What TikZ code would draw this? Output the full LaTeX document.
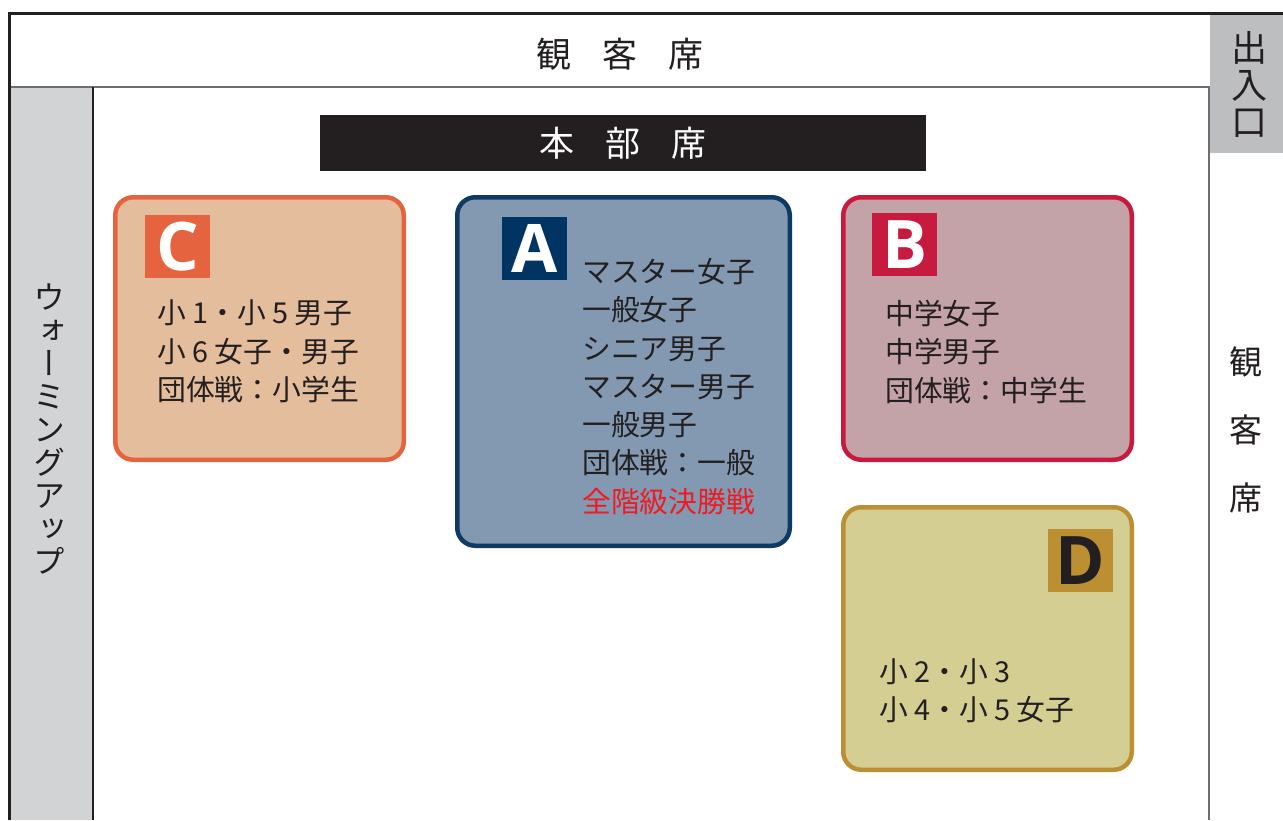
\documentclass[tikz,border=0pt]{standalone}
\usepackage{fontspec}
\setmainfont{Noto Sans CJK JP}
\newfontfamily\vjp[RawFeature=+vert]{Noto Sans CJK JP}
\newfontfamily\latin{Open Sans}
\definecolor{ink}{HTML}{231F20}
\definecolor{stripgray}{HTML}{D1D3D4}
\definecolor{doorgray}{HTML}{BCBEC0}
\definecolor{linegray}{HTML}{6D6E71}
\definecolor{Cfill}{HTML}{E4BD9D}
\definecolor{Cline}{HTML}{E5643F}
\definecolor{Afill}{HTML}{8299B1}
\definecolor{Aline}{HTML}{0E3A63}
\definecolor{Alabel}{HTML}{003462}
\definecolor{Bfill}{HTML}{C3A3A8}
\definecolor{Bline}{HTML}{C8193F}
\definecolor{Dfill}{HTML}{D4CE93}
\definecolor{Dline}{HTML}{BC8F33}
\definecolor{winred}{HTML}{ED1C24}
\tikzset{
  court/.style={rounded corners=18pt, line width=4.5pt, inner sep=0pt, outer sep=0pt, anchor=north west},
  tag/.style={minimum width=65pt, minimum height=63pt, inner sep=0pt, outer sep=0pt, anchor=north west,
    font=\latin\bfseries\fontsize{67}{67}\selectfont, text=white},
  list/.style={anchor=north west, inner sep=0pt, align=left, font=\fontsize{28.8}{38.3}\selectfont, text=ink},
}
\begin{document}
\begin{tikzpicture}[x=1pt,y=-1pt]
\useasboundingbox (0,0) rectangle (1283,820);
% background areas
\fill[stripgray] (11,87) rectangle (93,820);
\fill[doorgray] (1210,15) rectangle (1283,153);
\draw[line width=1.5pt, linegray] (11,87) -- (1209,87) -- (1209,820);
\draw[line width=1.5pt, ink] (93,87) -- (93,820);
\draw[line width=3pt, ink] (9.5,820) -- (9.5,13.5) -- (1283,13.5);
% labels of areas
\node[text=ink, font=\fontsize{35}{35}\selectfont, inner sep=0pt] (standtop) at (620,54) {観\hspace{31pt}客\hspace{31pt}席};
\node[text=ink, font=\fontsize{33}{68.5}\selectfont, align=center, inner sep=0pt] (standright) at (1246,430) {観\\客\\席};
\node[text=ink, font=\fontsize{36}{37}\selectfont, align=center, inner sep=0pt] (door) at (1249,84) {出\\入\\口};
\node[text=ink, font=\vjp\fontsize{32}{33}\selectfont, align=center, inner sep=0pt] (warmup) at (49,429) {ウ\\ォ\\ー\\ミ\\ン\\グ\\ア\\ッ\\プ};
\node[fill=ink, minimum width=606pt, minimum height=56pt, inner sep=0pt, anchor=north west, text=white,
  font=\fontsize{35}{35}\selectfont] (hq) at (320,115) {本\hspace{31pt}部\hspace{31pt}席};
% courts
\node[court, draw=Cline, fill=Cfill, minimum width=288.5pt, minimum height=262.5pt] (courtC) at (115.25,197.25) {};
\node[court, draw=Aline, fill=Afill, minimum width=332.5pt, minimum height=348.5pt] (courtA) at (457.25,197.25) {};
\node[court, draw=Bline, fill=Bfill, minimum width=288.5pt, minimum height=262.5pt] (courtB) at (843.25,197.25) {};
\node[court, draw=Dline, fill=Dfill, minimum width=288.5pt, minimum height=262.5pt] (courtD) at (843.25,507.25) {};
% tags
\node[tag, fill=Cline] (tagC) at (145,215) {C};
\node[tag, fill=Alabel] (tagA) at (502,217) {A};
\node[tag, fill=Bline] (tagB) at (872,213) {B};
\node[tag, fill=Dline, text=ink] (tagD) at (1048,529) {D};
% lists
\node[list] (listC) at (157,300) {小 1・小 5 男子\\小 6 女子・男子\\団体戦：小学生};
\node[list] (listA) at (582,258) {マスター女子\\一般女子\\シニア男子\\マスター男子\\一般男子\\団体戦：一般\\\textcolor{winred}{全階級決勝戦}};
\node[list] (listB) at (885,300) {中学女子\\中学男子\\団体戦：中学生};
\node[list] (listD) at (879,658) {小 2・小 3\\小 4・小 5 女子};
\end{tikzpicture}
\end{document}
